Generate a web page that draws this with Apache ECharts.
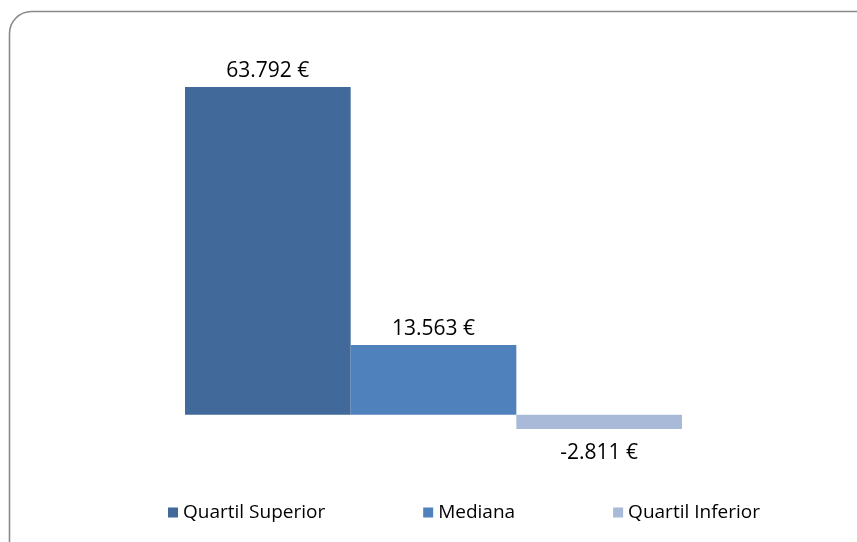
<!DOCTYPE html>
<html>
<head>
<meta charset="utf-8" />
<title>Quartis</title>
<script src="https://cdn.jsdelivr.net/npm/echarts@6/dist/echarts.min.js"></script>
<style>
  html, body { margin: 0; padding: 0; background: #fff; }
  #chart { width: 857px; height: 542px; }
</style>
</head>
<body>
<div id="chart"></div>
<script>
// dados
var seriesNames = ['Quartil Superior', 'Mediana', 'Quartil Inferior'];
var seriesValues = [63792, 13563, -2811];
var seriesColors = ['#41699a', '#4f81bd', '#a9b9d8'];
var category = [''];

// 63792 -> "63.792 €"
function fmt(v) {
  var s = Math.abs(v).toString().replace(/\B(?=(\d{3})+(?!\d))/g, '.');
  return (v < 0 ? '-' : '') + s + ' €';
}

var chart = echarts.init(document.getElementById('chart'));

var series = seriesNames.map(function (name, i) {
  return {
    name: name,
    type: 'bar',
    data: [seriesValues[i]],
    barGap: '0%',
    barCategoryGap: '0%',
    itemStyle: { color: seriesColors[i] },
    label: {
      show: true,
      position: seriesValues[i] < 0 ? 'bottom' : 'top',
      distance: seriesValues[i] < 0 ? 13 : 5,
      color: '#000',
      fontFamily: 'Open Sans',
      fontSize: 21,
      formatter: function (p) { return fmt(p.value); }
    }
  };
});

var option = {
  animation: false,
  graphic: [{
    type: 'rect',
    shape: { x: 9.5, y: 11.5, width: 900, height: 600, r: 22 },
    style: { fill: 'none', stroke: '#8a8a8a', lineWidth: 1.6 },
    silent: true
  }],
  grid: { left: 185, width: 497, top: 55, height: 411 },
  xAxis: {
    type: 'category',
    data: category,
    show: false
  },
  yAxis: {
    type: 'value',
    min: -10000,
    max: 70000,
    show: false
  },
  legend: {
    left: 168,
    top: 503,
    padding: 0,
    itemWidth: 10,
    itemHeight: 10,
    itemGap: 98,
    icon: 'rect',
    textStyle: { color: '#000', fontFamily: 'Open Sans', fontSize: 19 },
    data: seriesNames
  },
  series: series
};

chart.setOption(option);
</script>
</body>
</html>
